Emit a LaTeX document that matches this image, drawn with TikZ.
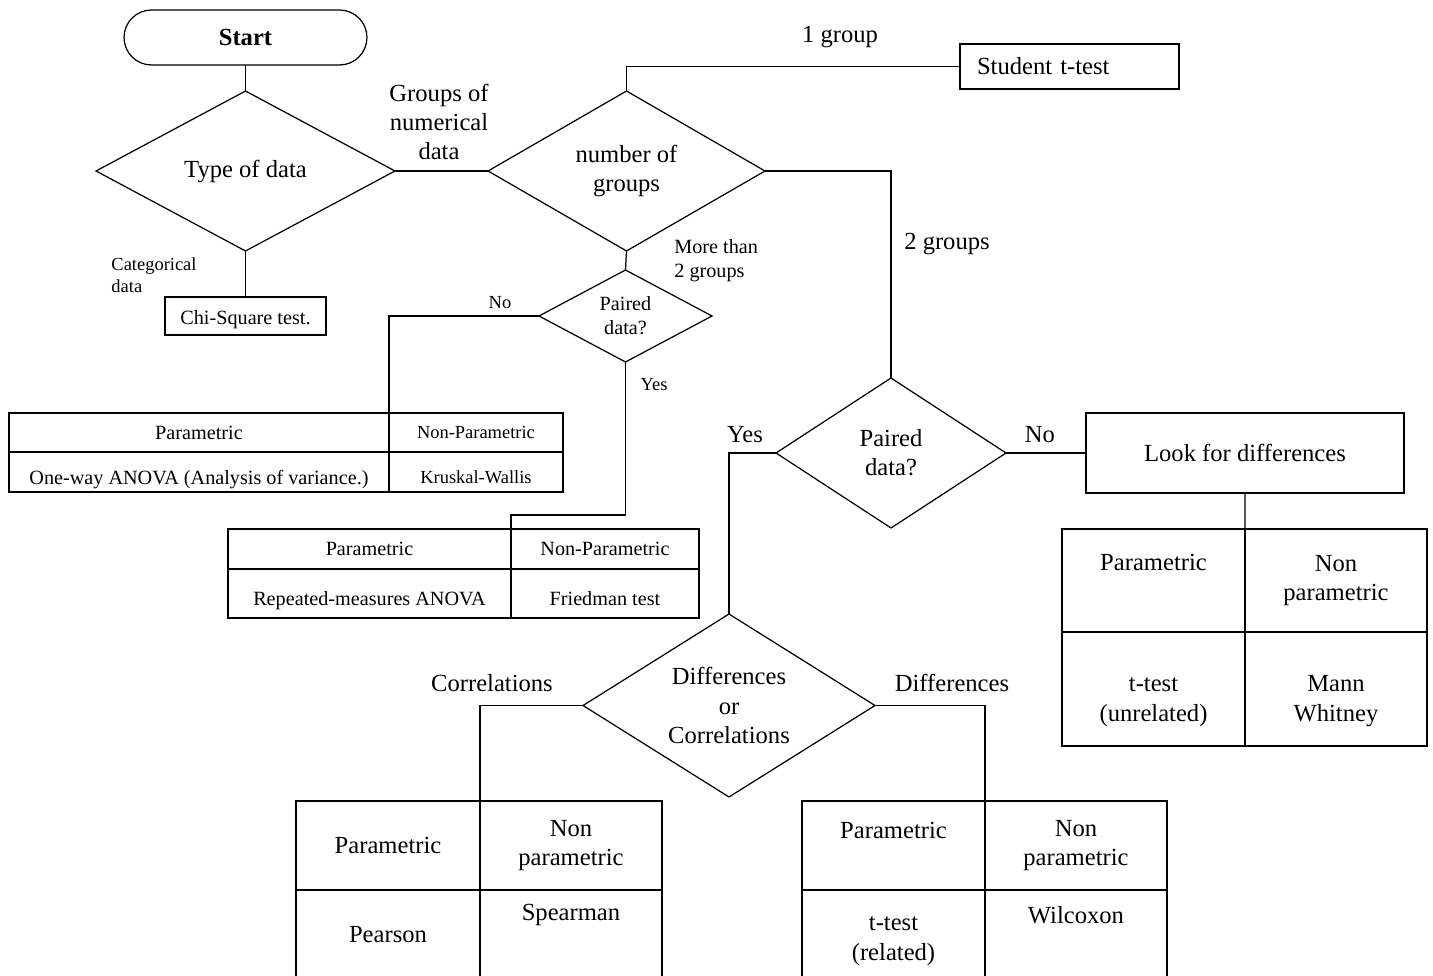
\documentclass[tikz,border=0pt]{standalone}
\usepackage{fontspec}
\setmainfont{Liberation Serif}
\usetikzlibrary{shapes.geometric,positioning}

\begin{document}
\begin{tikzpicture}[
  x=0.02cm, y=-0.02cm,
  line width=0.7pt,
  node distance=0pt,
  every node/.style={font=\fontsize{14}{16.6}\selectfont},
  smalltxt/.style={font=\fontsize{11.5}{13.6}\selectfont},
  tinytxt/.style={font=\fontsize{10.5}{12.5}\selectfont},
  box/.style={draw, rectangle, align=center, outer sep=0pt},
  cell/.style={draw, rectangle, align=center, outer sep=0pt},
  choice/.style={draw, diamond, align=center, inner sep=0pt, outer sep=0pt},
  lbl/.style={align=center, inner sep=1pt},
  raised/.style={text depth=#1},
  lowered/.style={text height=#1, inner ysep=0pt}
]
\useasboundingbox (0,0) rectangle (1433,976);
\clip (0,0) rectangle (1433,976);
\fill[white] (0,0) rectangle (1433,976);

% decisions
\node[box, rounded corners=0.55cm, minimum width=4.86cm, minimum height=1.1cm, font=\fontsize{14}{16.6}\selectfont\bfseries] (start) at (245.5,37.5) {Start};
\node[choice, aspect=1.87, minimum width=5.98cm, minimum height=3.2cm] (type) at (245.5,171) {Type of data};
\node[choice, aspect=1.73, minimum width=5.54cm, minimum height=3.2cm] (groups) at (626.5,171) {number of\\groups};
\node[choice, smalltxt, aspect=1.88, minimum width=3.46cm, minimum height=1.84cm] (pair1) at (625.5,316) {Paired\\data?};
\node[choice, aspect=1.53, minimum width=4.6cm, minimum height=3cm] (pair2) at (891,453) {Paired\\data?};
\node[choice, aspect=1.6, minimum width=5.84cm, minimum height=3.66cm] (dc) at (729,705.5) {Differences\\or\\Correlations};

% single tests
\node[box, smalltxt, lowered=12pt, minimum width=3.22cm, minimum height=0.76cm] (chi) at (245.5,316) {Chi-Square test.};
\node[box, anchor=west, text width=3.7cm, inner xsep=0.34cm, minimum height=0.9cm, align=left] (student) at (960,66.5) {Student t-test};
\node[box, minimum width=6.36cm, minimum height=1.6cm] (look) at (1245,453) {Look for differences};

% more than 2 groups, unpaired
\node[cell, smalltxt, minimum width=7.6cm, minimum height=0.78cm] (t1a) at (199,432.5) {Parametric};
\node[cell, tinytxt, minimum width=3.48cm, minimum height=0.78cm, right=of t1a] (t1b) {Non-Parametric};
\node[cell, smalltxt, lowered=17pt, minimum width=7.6cm, minimum height=0.8cm, below=of t1a] (t1c) {One-way ANOVA (Analysis of variance.)};
\node[cell, tinytxt, lowered=12.8pt, minimum width=3.48cm, minimum height=0.8cm, below=of t1b] (t1d) {Kruskal-Wallis};

% more than 2 groups, paired
\node[cell, smalltxt, minimum width=5.66cm, minimum height=0.8cm] (t2a) at (369.5,549) {Parametric};
\node[cell, smalltxt, minimum width=3.76cm, minimum height=0.8cm, right=of t2a] (t2b) {Non-Parametric};
\node[cell, smalltxt, lowered=15.9pt, minimum width=5.66cm, minimum height=0.98cm, below=of t2a] (t2c) {Repeated-measures ANOVA};
\node[cell, smalltxt, lowered=13.5pt, minimum width=3.76cm, minimum height=0.98cm, below=of t2b] (t2d) {Friedman test};

% 2 groups, unpaired
\node[cell, raised=20.7pt, minimum width=3.66cm, minimum height=2.06cm] (t3a) at (1153.5,580.5) {Parametric};
\node[cell, minimum width=3.64cm, minimum height=2.06cm, right=of t3a] (t3b) {Non\\parametric};
\node[cell, minimum width=3.66cm, minimum height=2.28cm, below=of t3a] (t3c) {\rule{0pt}{23pt}t-test\\(unrelated)};
\node[cell, minimum width=3.64cm, minimum height=2.28cm, below=of t3b] (t3d) {\rule{0pt}{23pt}Mann\\Whitney};

% correlations
\node[cell, minimum width=3.68cm, minimum height=1.78cm] (t4a) at (388,845.5) {Parametric};
\node[cell, minimum width=3.64cm, minimum height=1.78cm, right=of t4a] (t4b) {Non\\parametric};
\node[cell, minimum width=3.68cm, minimum height=1.8cm, below=of t4a] (t4c) {Pearson};
\node[cell, raised=26pt, minimum width=3.64cm, minimum height=1.8cm, below=of t4b] (t4d) {Spearman};

% differences
\node[cell, raised=17.3pt, minimum width=3.66cm, minimum height=1.78cm] (t5a) at (893.5,845.5) {Parametric};
\node[cell, minimum width=3.64cm, minimum height=1.78cm, right=of t5a] (t5b) {Non\\parametric};
\node[cell, minimum width=3.66cm, minimum height=1.8cm, below=of t5a] (t5c) {\rule{0pt}{15pt}t-test\\(related)};
\node[cell, raised=23pt, minimum width=3.64cm, minimum height=1.8cm, below=of t5b] (t5d) {Wilcoxon};

% branch labels
\node[tinytxt, lbl, align=left] (catlbl) at (154,275) {Categorical\\data};
\node[lbl] (numlbl) at (439,122) {Groups of\\numerical\\data};
\node[lbl] (onelbl) at (840,37) {1 group};
\node[smalltxt, lbl, align=left, anchor=west] (morelbl) at (672,261) {More than\\2 groups};
\node[lbl] (twolbl) at (947,244) {2 groups};
\node[tinytxt, lbl] (nolbl) at (500,303) {No};
\node[tinytxt, lbl] (yeslbl) at (654,385) {Yes};
\node[lbl] (yes2lbl) at (745,435) {Yes};
\node[lbl] (no2lbl) at (1040,435) {No};
\node[lbl] (corlbl) at (492,683) {Correlations};
\node[lbl] (diflbl) at (952,683) {Differences};

\coordinate (jog) at (511,515);

\draw (start.south) -- (type.north);
\draw (type.south) -- (chi.north);
\draw (type.east) -- (groups.west);
\draw (groups.north) |- (student.west);
\draw (groups.east) -| (pair2.north);
\draw (groups.south) -- (pair1.north);
\draw (pair1.west) -| (t1a.north east);
\draw (pair1.south) |- (jog) -| (t2a.north east);
\draw (pair2.east) -- (look.west);
\draw (look.south) -- (t3a.north east);
\draw (pair2.west) -| (dc.north);
\draw (dc.west) -| (t4a.north east);
\draw (dc.east) -| (t5a.north east);
\end{tikzpicture}
\end{document}
